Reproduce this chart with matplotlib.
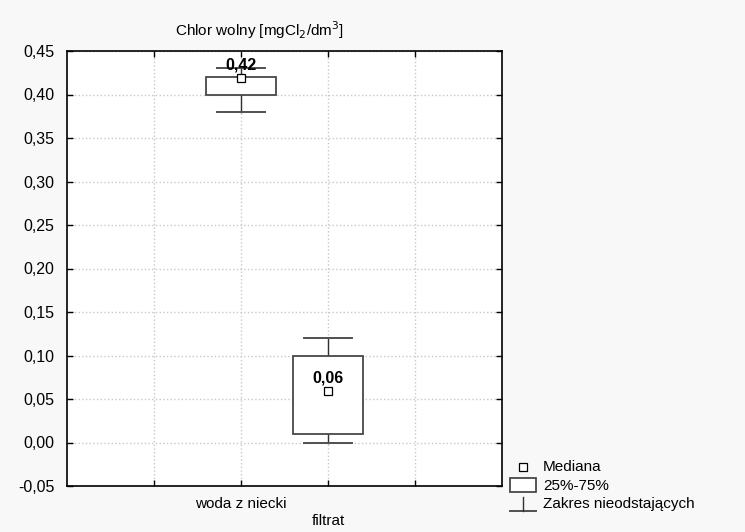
import matplotlib.pyplot as plt
from matplotlib.lines import Line2D
from matplotlib.patches import Rectangle

plt.rcParams['font.family'] = ['Liberation Sans', 'DejaVu Sans']

groups = ['woda z niecki', 'filtrat']
positions = [2, 3]
medians = [0.42, 0.06]
q25 = [0.40, 0.01]
q75 = [0.42, 0.10]
whisk_lo = [0.38, 0.00]
whisk_hi = [0.43, 0.12]
yticks = [-0.05, 0.00, 0.05, 0.10, 0.15, 0.20, 0.25, 0.30, 0.35, 0.40, 0.45]

FS = 11
EDGE = '#484848'

fig = plt.figure(figsize=(7.45, 5.32), dpi=100, facecolor='#f8f8f8')
ax = fig.add_axes([67 / 745, 1 - 486 / 532, 435 / 745, 435 / 532])

box_w = 0.8
cap_w = 0.56
for x, med, lo, hi, wlo, whi in zip(positions, medians, q25, q75, whisk_lo, whisk_hi):
    ax.plot([x, x], [wlo, lo], color='#303030', lw=1, zorder=3)
    ax.plot([x, x], [hi, whi], color='#303030', lw=1, zorder=3)
    ax.plot([x - cap_w / 2, x + cap_w / 2], [wlo, wlo], color='#505050', lw=1.4, zorder=3)
    ax.plot([x - cap_w / 2, x + cap_w / 2], [whi, whi], color='#505050', lw=1.4, zorder=3)
    ax.add_patch(Rectangle((x - box_w / 2, lo), box_w, hi - lo, facecolor='white',
                           edgecolor=EDGE, lw=1.3, zorder=4))
    ax.plot(x, med - 0.001, marker='s', ms=6, mfc='white', mec='black', mew=0.9, zorder=5)
    ax.text(x, med + 0.0055, f'{med:.2f}'.replace('.', ','), ha='center', va='bottom',
            fontsize=11.5, fontweight='bold', zorder=6)

ax.set_xlim(0, 5)
ax.set_ylim(-0.05, 0.45)
ax.set_xticks([1, 2, 3, 4])
ax.set_xticklabels([])
ax.set_yticks(yticks)
ax.set_yticklabels([f'{v:.2f}'.replace('.', ',') for v in yticks], fontsize=11.5)
ax.tick_params(direction='in', top=True, right=True, length=4, width=1, pad=9)
ax.grid(True, color='#c8c8c8', linestyle=':', linewidth=1)
for s in ax.spines.values():
    s.set_linewidth(1.2)

# staggered category labels under the axis
for x, name, off in zip(positions, groups, [0.0207, 0.0402]):
    ax.text(x, -0.05 - off, name, ha='center', va='center', fontsize=FS, clip_on=False)

fig.text(260 / 745, 1 - 30 / 532, 'Chlor wolny [mgCl$_2$/dm$^3$]', ha='center', va='center',
         fontsize=FS)

# legend drawn by hand to the right of the axes
lx = 523 / 745
fig.add_artist(Line2D([lx], [1 - 467 / 532], marker='s', ms=6, mfc='white', mec='black', mew=0.9))
fig.add_artist(Rectangle((510 / 745, 1 - 492 / 532), 26 / 745, 14 / 532, facecolor='white',
                         edgecolor=EDGE, lw=1.3, transform=fig.transFigure))
fig.add_artist(Line2D([510 / 745, 536 / 745], [1 - 511 / 532] * 2, color='#505050', lw=1.4))
fig.add_artist(Line2D([lx, lx], [1 - 497 / 532, 1 - 511 / 532], color='#303030', lw=1))
for y, t in zip([467, 486, 504], ['Mediana', '25%-75%', 'Zakres nieodstających']):
    fig.text(543 / 745, 1 - y / 532, t, ha='left', va='center', fontsize=FS)

fig.savefig('out.png', dpi=100, facecolor=fig.get_facecolor())
